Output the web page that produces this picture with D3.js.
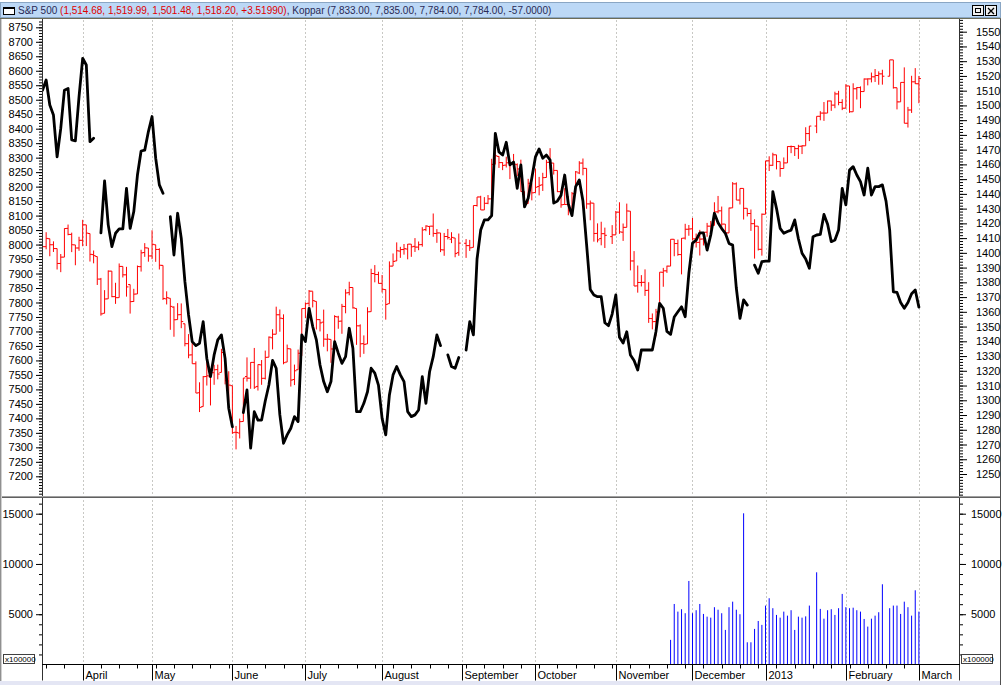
<!DOCTYPE html>
<html><head><meta charset="utf-8">
<script src="https://cdn.jsdelivr.net/npm/d3@7/dist/d3.min.js"></script>
<style>
html,body{margin:0;padding:0;background:#fff;overflow:hidden;}
svg{display:block;font-family:"Liberation Sans",Arial,sans-serif;}
</style></head><body>
<svg id="c" width="1005" height="685"></svg>
<script>
// ---------------- DATA ----------------
const monthLabels = ["April","May","June","July","August","September","October","November","December","2013","February","March"];
// number of bars in each month, starting with the partial March 2012
const monthBarCounts = [11,19,22,20,21,22,20,22,21,20,22,20,1];

const leftTickValues  = d3.range(7200, 8751, 50);
const rightTickValues = d3.range(1250, 1551, 10);
const volTickValues   = [5000, 10000, 15000];

const titleName1 = "S&P 500 ";
const titleValues1 = "(1,514.68, 1,519.99, 1,501.48, 1,518.20, +3.51990)";
const titleRest = ", Koppar (7,833.00, 7,835.00, 7,784.00, 7,784.00, -57.0000)";
const volUnit = "x100000";

// S&P 500 daily bars: [open, high, low, close]
const spx = [
// March 2012
[1402.6,1405.9,1401.5,1404.2],[1404.2,1414.0,1402.4,1409.8],[1409.6,1409.6,1397.7,1405.5],[1405.5,1407.8,1400.6,1402.9],
[1402.9,1402.9,1388.7,1392.8],[1392.8,1399.2,1386.9,1397.1],[1397.1,1416.6,1397.1,1416.5],[1416.6,1419.2,1411.9,1412.5],
[1412.5,1413.7,1400.5,1405.5],[1405.4,1405.4,1391.6,1403.3],[1403.3,1410.9,1401.4,1408.5],
// April
[1408.5,1422.4,1404.5,1419.0],[1419.0,1419.0,1404.6,1413.4],[1413.1,1413.1,1394.1,1399.0],[1398.8,1401.6,1392.9,1398.1],
[1397.5,1397.5,1378.2,1382.2],[1382.2,1383.0,1357.4,1358.6],[1359.0,1374.7,1359.0,1368.7],[1368.8,1388.1,1368.8,1387.6],
[1387.6,1387.6,1369.9,1370.3],[1370.3,1379.7,1365.4,1369.6],[1369.6,1392.8,1369.6,1390.8],[1390.8,1390.8,1383.3,1385.1],
[1385.1,1390.5,1370.3,1376.9],[1378.5,1378.5,1358.8,1366.9],[1367.0,1375.6,1366.8,1372.0],[1372.1,1391.4,1372.1,1390.7],
[1390.6,1402.1,1387.3,1400.0],[1400.2,1406.6,1397.3,1403.4],[1403.3,1403.3,1394.0,1397.9],
// May
[1397.9,1415.3,1395.7,1405.8],[1405.5,1405.5,1393.9,1402.3],[1402.3,1403.1,1388.7,1391.6],[1391.5,1391.5,1368.0,1369.1],
[1368.8,1373.9,1365.0,1369.6],[1369.2,1369.2,1347.8,1363.7],[1363.2,1363.7,1343.1,1354.6],[1354.7,1365.9,1354.7,1358.0],
[1358.1,1365.7,1348.9,1353.4],[1351.9,1351.9,1336.6,1338.4],[1338.4,1344.9,1328.5,1330.7],[1330.8,1341.8,1324.8,1324.8],
[1324.8,1326.4,1304.9,1304.9],[1305.1,1312.2,1292.0,1295.2],[1295.7,1316.4,1295.7,1316.0],[1316.1,1328.5,1310.0,1316.6],
[1316.0,1320.7,1296.5,1318.9],[1318.7,1324.1,1310.5,1320.7],[1320.8,1324.2,1314.2,1317.8],[1318.9,1334.9,1318.9,1332.4],
[1331.3,1331.3,1310.8,1313.3],[1313.1,1319.7,1298.9,1310.3],
// June
[1309.9,1309.9,1277.3,1278.0],[1278.3,1282.6,1266.7,1278.2],[1277.8,1287.6,1274.1,1285.5],[1285.6,1315.1,1285.6,1315.1],
[1316.1,1329.1,1312.7,1315.0],[1315.0,1325.8,1307.8,1325.7],[1325.7,1335.5,1307.7,1308.9],[1309.4,1324.3,1306.6,1324.2],
[1324.0,1327.3,1310.5,1314.9],[1314.9,1333.7,1314.1,1329.1],[1329.2,1343.3,1329.2,1342.8],[1342.4,1348.2,1334.5,1344.8],
[1344.8,1363.5,1344.8,1358.0],[1358.0,1361.6,1346.5,1355.7],[1355.4,1358.3,1324.4,1325.5],[1325.9,1337.8,1325.9,1335.0],
[1334.9,1334.9,1309.3,1313.7],[1314.1,1324.2,1310.3,1320.0],[1320.7,1334.4,1320.7,1331.9],[1330.1,1362.2,1330.1,1362.2],
// July
[1362.3,1366.4,1355.7,1365.5],[1365.8,1374.8,1363.5,1374.0],[1374.0,1373.9,1363.0,1367.6],[1367.1,1367.1,1348.0,1354.7],
[1354.7,1354.9,1346.7,1352.5],[1353.0,1361.5,1336.3,1341.5],[1341.4,1345.0,1333.2,1341.5],[1341.3,1341.3,1325.4,1334.8],
[1334.8,1357.7,1334.8,1356.8],[1356.5,1357.3,1348.5,1353.6],[1353.7,1365.4,1345.1,1363.7],[1363.6,1375.3,1359.0,1372.8],
[1373.0,1380.4,1371.2,1376.5],[1376.5,1376.5,1362.2,1362.7],[1362.3,1362.3,1337.6,1350.5],[1350.5,1351.5,1329.2,1338.3],
[1338.4,1344.0,1331.5,1337.9],[1338.2,1363.1,1338.2,1360.0],[1360.1,1389.2,1360.1,1386.0],[1385.9,1391.7,1380.0,1385.3],
[1385.3,1387.2,1379.2,1379.3],
// August
[1379.3,1385.0,1373.1,1375.3],[1375.1,1375.1,1354.7,1365.0],[1365.5,1394.2,1365.5,1391.0],[1391.0,1399.6,1391.0,1394.2],
[1394.5,1407.1,1394.5,1401.4],[1401.2,1404.1,1396.6,1402.2],[1402.3,1406.0,1398.8,1402.8],[1402.6,1406.0,1395.6,1405.9],
[1405.9,1405.9,1397.3,1404.1],[1404.4,1410.0,1400.6,1403.9],[1403.9,1407.7,1401.8,1405.5],[1405.6,1417.4,1404.2,1415.5],
[1415.8,1418.7,1414.7,1418.2],[1417.9,1418.1,1412.1,1418.1],[1418.1,1426.7,1410.9,1413.2],[1413.1,1416.1,1406.8,1413.5],
[1413.5,1413.5,1400.5,1402.1],[1402.0,1413.5,1398.0,1411.1],[1411.1,1416.2,1409.1,1410.4],[1409.3,1414.0,1406.6,1410.5],
[1410.1,1410.1,1397.0,1399.5],[1400.1,1413.1,1398.0,1406.6],
// September
null,[1406.5,1409.3,1396.6,1404.9],[1404.9,1408.8,1401.3,1403.4],[1403.7,1432.1,1403.7,1432.1],
[1432.1,1437.9,1431.4,1437.9],[1437.9,1438.7,1429.1,1429.1],[1429.1,1437.8,1429.1,1433.6],[1433.6,1439.2,1433.0,1436.6],
[1436.6,1463.8,1435.3,1460.0],[1460.1,1474.5,1460.1,1465.8],[1465.4,1465.6,1457.6,1461.2],[1461.2,1461.5,1456.1,1459.3],
[1459.5,1465.2,1457.9,1461.1],[1461.0,1461.2,1450.0,1460.3],[1460.3,1467.1,1459.5,1460.2],[1459.8,1460.7,1452.1,1456.9],
[1456.9,1463.2,1441.6,1441.6],[1441.6,1441.6,1430.5,1433.3],[1433.4,1450.2,1433.4,1447.2],[1447.1,1447.1,1435.6,1440.7],
// October
[1440.9,1457.1,1440.9,1444.5],[1445.0,1451.5,1439.0,1445.8],[1446.1,1454.3,1442.0,1451.0],[1451.1,1463.1,1451.1,1461.4],
[1461.4,1471.0,1456.9,1460.9],[1460.9,1460.9,1453.1,1455.9],[1455.9,1455.9,1441.2,1441.5],[1441.5,1442.5,1430.6,1432.6],
[1432.8,1443.9,1432.8,1432.8],[1432.8,1438.4,1425.5,1428.6],[1428.8,1441.3,1427.2,1440.1],[1440.3,1455.5,1440.3,1454.9],
[1454.2,1462.2,1453.4,1460.9],[1460.9,1464.0,1452.6,1457.3],[1457.3,1457.3,1429.9,1433.2],[1433.2,1435.5,1422.1,1433.8],
[1433.7,1433.7,1407.6,1413.1],[1413.2,1420.0,1407.1,1408.8],[1409.7,1421.1,1405.1,1413.0],[1413.0,1417.1,1403.3,1411.9],
null,[1411.0,1418.8,1406.0,1412.2],
// November
[1412.2,1428.4,1412.2,1427.6],[1427.6,1434.3,1412.9,1414.2],[1414.0,1419.9,1408.1,1417.3],[1417.3,1433.4,1417.3,1428.4],
[1428.3,1428.3,1388.1,1394.5],[1394.5,1401.2,1377.5,1377.5],[1377.6,1391.4,1373.0,1379.9],[1379.9,1384.9,1377.2,1380.0],
[1380.0,1388.8,1370.8,1374.5],[1374.6,1380.1,1352.5,1355.5],[1355.4,1358.9,1348.1,1353.3],[1353.4,1362.0,1343.4,1359.9],
[1359.9,1386.9,1359.9,1386.9],[1386.8,1389.8,1377.0,1387.8],[1387.8,1391.3,1386.4,1391.0],[1391.0,1409.2,1391.0,1409.2],
[1409.2,1409.2,1397.7,1406.3],[1406.3,1409.0,1398.0,1398.9],[1398.8,1410.0,1385.4,1409.9],[1410.0,1419.7,1409.0,1416.0],
[1416.0,1418.9,1411.6,1416.2],
// December
[1416.3,1423.7,1408.5,1409.5],[1409.5,1413.1,1403.6,1407.1],[1407.1,1415.6,1398.2,1409.3],[1409.4,1414.0,1405.0,1413.9],
[1414.0,1420.3,1410.9,1418.1],[1418.1,1421.6,1415.6,1418.6],[1418.6,1434.3,1418.6,1427.8],[1427.8,1438.6,1426.8,1428.5],
[1428.5,1431.4,1416.0,1419.5],[1419.5,1419.5,1411.9,1413.6],[1413.5,1430.7,1413.5,1430.4],[1430.5,1448.0,1430.5,1446.8],
[1446.8,1447.8,1435.8,1435.8],[1435.8,1443.7,1432.8,1443.7],[1443.7,1443.7,1422.6,1430.2],[1430.2,1430.2,1424.7,1426.7],
[1426.7,1429.4,1414.9,1419.8],[1419.8,1422.8,1396.1,1418.1],[1418.1,1418.1,1401.6,1402.4],[1402.4,1426.7,1398.1,1426.2],
// January 2013
[1426.2,1462.4,1426.2,1462.4],[1462.4,1465.5,1455.5,1459.4],[1459.4,1467.9,1459.0,1466.5],[1466.5,1466.5,1456.6,1461.9],
[1461.9,1461.9,1451.6,1457.2],[1457.2,1464.7,1457.2,1461.0],[1461.0,1472.3,1461.0,1472.1],[1472.1,1472.8,1467.6,1472.1],
[1472.1,1472.1,1465.7,1470.7],[1470.7,1473.3,1463.7,1472.3],[1472.3,1473.0,1467.0,1472.6],[1472.6,1485.2,1472.6,1480.9],
[1480.9,1486.0,1475.8,1486.0],null,[1486.0,1492.6,1481.2,1492.6],[1492.6,1496.1,1489.9,1494.8],
[1494.8,1502.3,1489.5,1494.8],[1494.8,1503.3,1494.8,1503.0],[1503.0,1503.2,1496.3,1500.2],[1500.2,1509.3,1498.1,1507.8],
[1507.8,1509.9,1500.1,1502.0],[1502.0,1504.2,1496.8,1498.1],
// February
[1498.1,1514.4,1498.1,1513.2],[1513.2,1513.2,1495.0,1495.7],[1495.7,1515.0,1495.7,1511.3],[1511.3,1512.5,1504.0,1512.1],
[1512.1,1512.9,1498.1,1509.4],[1509.4,1518.3,1509.4,1517.9],[1517.9,1518.3,1513.6,1518.0],[1518.0,1522.3,1515.6,1519.4],
[1519.4,1524.7,1515.9,1520.3],[1520.3,1523.1,1514.0,1521.4],[1521.4,1524.2,1514.1,1519.8],null,
[1519.8,1530.9,1519.8,1530.9],[1530.9,1530.9,1511.4,1512.0],[1512.0,1512.0,1497.3,1502.4],[1502.4,1515.6,1502.4,1515.6],
[1515.6,1525.8,1487.9,1487.9],[1487.9,1499.0,1485.0,1496.9],[1496.9,1520.1,1494.9,1516.0],[1516.0,1525.3,1514.5,1514.7],
// March 2013
[1514.68,1519.99,1501.48,1518.20]
];

// Koppar daily close (null = no quote that day)
const koppar = [
// March 2012
8533,8568,8482,8447,8303,8401,8533,8539,8361,8358,8510,
// April
8643,8620,8355,8367,null,8040,8220,8068,7993,8039,8054,8054,8194,8056,8114,8240,8323,8326,8390,
// May
8442,8298,8206,8177,null,8096,7964,8108,8022,7872,7757,7665,7651,7659,7734,7607,7544,7619,7671,7688,7607,7435,
// June
7371,null,null,7420,7498,7297,7423,7394,7394,7460,7515,7600,7573,7412,7314,7343,7366,7406,7389,7688,
// July
7665,7780,7717,7671,7584,7527,7492,7527,7665,7625,7590,7613,7711,7642,7423,7423,7452,7492,7573,7556,7515,
// August
7400,7343,7481,7550,7579,7550,7527,7423,7406,7412,7429,7544,7452,7561,7613,7688,7651,null,7619,7579,7573,7610,
// September
null,7636,7734,7688,7950,8050,8085,8085,8100,8384,8320,8309,8353,8275,8285,8194,8275,8130,8160,8230,
// October
8303,8330,8298,8309,8292,8143,8150,8170,8240,8140,8100,8200,8223,8150,8000,7845,7826,7820,7820,7730,7720,7760,
// November
7826,7680,7660,7699,7619,7600,7567,7636,7636,7636,7636,7700,7797,7780,7700,7690,7750,7768,7785,7751,7900,
// December
8005,8015,8040,8040,7981,8033,8108,8075,8055,8039,8004,7998,7850,7745,7809,7791,null,7929,7901,7941,
// January 2013
7943,7943,8183,8125,8056,8039,8045,8050,8085,8020,7970,7950,7918,8027,8033,8035,8104,8070,8010,8016,8050,8194,
// February
8137,8257,8269,8240,8217,8171,8264,8171,8200,8200,8206,8150,8050,7837,7835,7800,7780,7800,7830,7843,
// March 2013
7784
];

// Volume (x100000), available from bar number volumeFromBar onwards
const volumeFromBar = 172;
const volume = [
2450,
6020,5260,5500,5100,8310,
5100,5400,6020,5030,4760,4660,5700,5450,5100,3440,5700,6250,5450,5000,15040,2210,2210,3540,4330,3940,
5860,6590,5600,4930,4660,5260,4860,5400,3440,4760,4660,4790,5860,null,9170,5530,4560,5400,5500,4930,5600,7020,
5700,5600,5650,5400,5260,4530,3770,4560,4860,5200,7980,null,5600,5860,5860,5030,6250,5700,4860,7380,
5260
];

// ---------------- LAYOUT ----------------
const W = 1005, H = 685;
const plotL = 42, plotR = 959;
const mainT = 19, mainB = 496;
const volT = 499, volB = 664.5;
const nBars = spx.length;

const x = d3.scaleLinear().domain([0, nBars - 1]).range([42.5, 918.9]);
const yL = d3.scaleLinear().domain([7200, 8750]).range([476.3, 27.3]);
const yR = d3.scaleLinear().domain([1250, 1550]).range([474, 31.7]);
const yV = d3.scaleLinear().domain([0, 15000]).range([volB, 513.7]);

const svg = d3.select("#c");
svg.append("rect").attr("width", W).attr("height", H).attr("fill", "#ffffff");

// month starts
const monthStart = [];
let acc = 0;
monthBarCounts.forEach(c => { monthStart.push(acc); acc += c; });
const monthGrid = monthStart.slice(1).map((s, k) => ({bar: s, label: monthLabels[k]}));

// clip regions
const defs = svg.append("defs");
defs.append("clipPath").attr("id", "mainClip").append("rect")
  .attr("x", plotL + 0.5).attr("y", mainT + 0.5).attr("width", plotR - plotL - 1).attr("height", mainB - mainT - 1);
defs.append("clipPath").attr("id", "volClip").append("rect")
  .attr("x", plotL + 0.5).attr("y", volT).attr("width", plotR - plotL - 1).attr("height", volB - volT);

// gridlines
const grid = svg.append("g").attr("stroke", "#c8c8c4").attr("stroke-width", 1).attr("stroke-dasharray", "2,2");
monthGrid.forEach(m => {
  const gx = Math.round(x(m.bar)) + 0.5;
  grid.append("line").attr("x1", gx).attr("x2", gx).attr("y1", mainT + 1).attr("y2", mainB);
  grid.append("line").attr("x1", gx).attr("x2", gx).attr("y1", volT + 1).attr("y2", volB);
});

// S&P 500 OHLC bars
const bars = svg.append("g").attr("clip-path", "url(#mainClip)").attr("stroke", "#ff0000").attr("stroke-width", 1).attr("fill", "none");
spx.forEach((d, i) => {
  if (!d) return;
  const cx = x(i);
  bars.append("line").attr("x1", cx).attr("x2", cx).attr("y1", yR(d[1])).attr("y2", yR(d[2]));
  bars.append("line").attr("x1", cx - 2).attr("x2", cx).attr("y1", yR(d[0])).attr("y2", yR(d[0]));
  bars.append("line").attr("x1", cx).attr("x2", cx + 2).attr("y1", yR(d[3])).attr("y2", yR(d[3]));
});

// Koppar line
const line = d3.line().defined(d => d != null).x((d, i) => x(i)).y(d => yL(d));
svg.append("path").attr("clip-path", "url(#mainClip)").datum(koppar)
  .attr("d", line).attr("fill", "none").attr("stroke", "#000").attr("stroke-width", 2.8)
  .attr("stroke-linejoin", "round").attr("stroke-linecap", "round");

// volume
const vg = svg.append("g").attr("clip-path", "url(#volClip)").attr("stroke", "#0000ff").attr("stroke-width", 1);
volume.forEach((v, k) => {
  if (v == null) return;
  const cx = x(volumeFromBar + k);
  vg.append("line").attr("x1", cx).attr("x2", cx).attr("y1", yV(0)).attr("y2", yV(v));
});

// ---------------- FRAMES ----------------
const frame = svg.append("g").attr("fill", "none");
frame.append("line").attr("x1", plotL + 0.5).attr("x2", plotL + 0.5).attr("y1", mainT).attr("y2", volB + 16).attr("stroke", "#303030");
frame.append("line").attr("x1", plotR + 0.5).attr("x2", plotR + 0.5).attr("y1", mainT).attr("y2", volB + 16).attr("stroke", "#303030");
frame.append("line").attr("x1", 0).attr("x2", 1001).attr("y1", mainB + 0.5).attr("y2", mainB + 0.5).attr("stroke", "#a0a0a0");
frame.append("line").attr("x1", 0).attr("x2", 1001).attr("y1", volT - 1.5).attr("y2", volT - 1.5).attr("stroke", "#606060");
frame.append("line").attr("x1", plotL).attr("x2", plotR + 1).attr("y1", volB).attr("y2", volB).attr("stroke", "#000");
frame.append("line").attr("x1", 0.5).attr("x2", 0.5).attr("y1", mainT).attr("y2", 681).attr("stroke", "#909090");
frame.append("line").attr("x1", 1.5).attr("x2", 1.5).attr("y1", mainT).attr("y2", 681).attr("stroke", "#d0d0d0");
frame.append("line").attr("x1", 1000.5).attr("x2", 1000.5).attr("y1", 0).attr("y2", 685).attr("stroke", "#505050");
svg.append("rect").attr("x", 0).attr("y", 681).attr("width", 1000).attr("height", 4).attr("fill", "#e4e6f4");

// ---------------- AXES ----------------
function styleAxis(g) {
  g.select(".domain").remove();
  g.selectAll(".tick line").attr("stroke", "#000");
  g.selectAll(".tick text").attr("fill", "#000").style("font-size", "11px").style("font-family", "'Liberation Sans', Arial, sans-serif");
}
svg.append("g").attr("transform", `translate(${plotL},0)`)
  .call(d3.axisLeft(yL).tickValues(d3.range(7140, 8780, 10)).tickSize(3).tickFormat(""))
  .call(styleAxis);
svg.append("g").attr("transform", `translate(${plotL},0)`)
  .call(d3.axisLeft(yL).tickValues(leftTickValues).tickSize(6).tickPadding(3).tickFormat(d3.format("d")))
  .call(styleAxis);
svg.append("g").attr("transform", `translate(${plotR + 1},0)`)
  .call(d3.axisRight(yR).tickValues(d3.range(1236, 1559, 2)).tickSize(3).tickFormat(""))
  .call(styleAxis);
svg.append("g").attr("transform", `translate(${plotR + 1},0)`)
  .call(d3.axisRight(yR).tickValues(rightTickValues).tickSize(7).tickPadding(9).tickFormat(d3.format("d")))
  .call(styleAxis);
svg.append("g").attr("transform", `translate(${plotL},0)`)
  .call(d3.axisLeft(yV).tickValues(d3.range(1000, 16001, 1000)).tickSize(3).tickFormat(""))
  .call(styleAxis);
svg.append("g").attr("transform", `translate(${plotL},0)`)
  .call(d3.axisLeft(yV).tickValues(volTickValues).tickSize(6).tickPadding(3).tickFormat(d3.format("d")))
  .call(styleAxis);
svg.append("g").attr("transform", `translate(${plotR + 1},0)`)
  .call(d3.axisRight(yV).tickValues(d3.range(1000, 16001, 1000)).tickSize(3).tickFormat(""))
  .call(styleAxis);
svg.append("g").attr("transform", `translate(${plotR + 1},0)`)
  .call(d3.axisRight(yV).tickValues(volTickValues).tickSize(6).tickPadding(5).tickFormat(d3.format("d")))
  .call(styleAxis);

const xg = svg.append("g").attr("stroke", "#000");
d3.range(1, nBars, 5).forEach(i => {
  const tx = Math.round(x(i)) + 0.5;
  xg.append("line").attr("x1", tx).attr("x2", tx).attr("y1", volB).attr("y2", volB + 4);
});
monthGrid.forEach(m => {
  const tx = Math.round(x(m.bar)) + 0.5;
  xg.append("line").attr("x1", tx).attr("x2", tx).attr("y1", volB).attr("y2", volB + 16);
  svg.append("text").attr("x", tx + 2).attr("y", volB + 14).attr("fill", "#000")
    .style("font-size", "11px").text(m.label);
});

[[3, 654], [961, 654]].forEach(p => {
  svg.append("rect").attr("x", p[0] + 0.5).attr("y", p[1] + 0.5).attr("width", 31).attr("height", 9)
    .attr("fill", "#fff").attr("stroke", "#404040");
  svg.append("text").attr("x", p[0] + 2).attr("y", p[1] + 8).style("font-size", "8px").attr("fill", "#000").text(volUnit);
});

// ---------------- TITLE BAR ----------------
svg.append("rect").attr("x", 0).attr("y", 0).attr("width", 1001).attr("height", 19).attr("fill", "#ffffff");
svg.append("rect").attr("x", 0.5).attr("y", 2.5).attr("width", 1000).attr("height", 15).attr("fill", "#bcd8f6").attr("stroke", "#8aa6c4");
svg.append("line").attr("x1", 0).attr("x2", 1001).attr("y1", 18.5).attr("y2", 18.5).attr("stroke", "#6c6c58");
svg.append("rect").attr("x", 3.5).attr("y", 7.5).attr("width", 11).attr("height", 7).attr("fill", "#fff").attr("stroke", "#000");
svg.append("line").attr("x1", 3.5).attr("x2", 14.5).attr("y1", 8.5).attr("y2", 8.5).attr("stroke", "#000");
const tt = svg.append("text").attr("x", 18).attr("y", 14).style("font-size", "10px");
tt.append("tspan").attr("fill", "#2a2a55").text(titleName1);
tt.append("tspan").attr("fill", "#e00000").text(titleValues1);
tt.append("tspan").attr("fill", "#2a2a55").text(titleRest);
svg.append("rect").attr("x", 972.5).attr("y", 5.5).attr("width", 11).attr("height", 10).attr("fill", "#f0f0f0").attr("stroke", "#000");
svg.append("rect").attr("x", 975.5).attr("y", 8.5).attr("width", 5).attr("height", 4).attr("fill", "none").attr("stroke", "#000");
svg.append("rect").attr("x", 985.5).attr("y", 5.5).attr("width", 11).attr("height", 10).attr("fill", "#f0f0f0").attr("stroke", "#000");
svg.append("path").attr("d", "M988,8 L994,14 M994,8 L988,14").attr("stroke", "#000").attr("stroke-width", 1.3);
</script>
</body></html>
